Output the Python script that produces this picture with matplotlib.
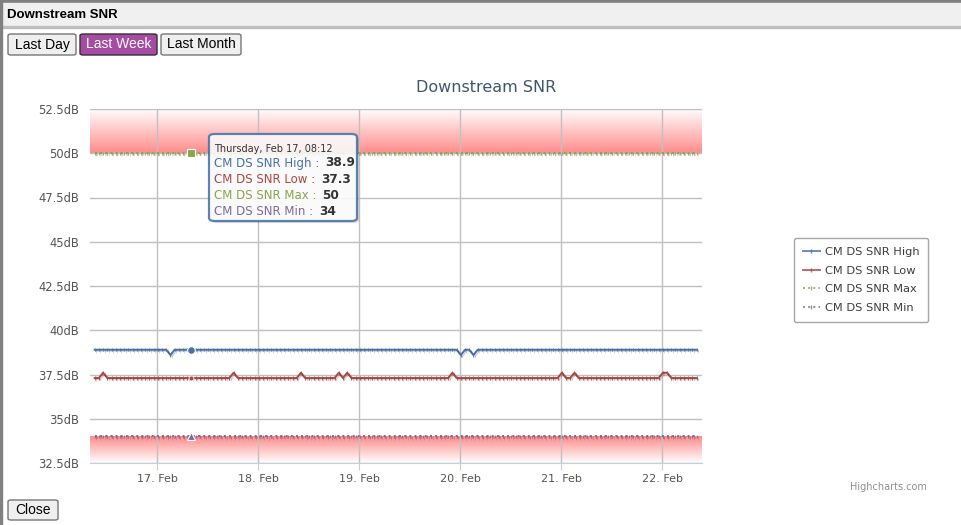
import matplotlib
matplotlib.use("Agg")
import matplotlib.pyplot as plt
import matplotlib.dates as mdates
import matplotlib.patheffects as pe
from matplotlib.colors import LinearSegmentedColormap
from matplotlib.patches import FancyBboxPatch, Rectangle
from matplotlib.lines import Line2D
from datetime import datetime, timedelta
import numpy as np

W, H = 962, 525

# hourly samples, one week view
first_sample = "2022-02-16 09:12"
n_samples = 144

high_base = 38.9
high_dip_times = ["02-17 03:12", "02-20 00:12", "02-20 03:12"]
high_dip_values = [38.6, 38.6, 38.6]

low_base = 37.3
low_peak_times = ["02-16 11:12", "02-17 18:12", "02-18 10:12", "02-18 19:12",
                  "02-18 21:12", "02-19 22:12", "02-21 00:12", "02-21 03:12",
                  "02-22 00:12", "02-22 01:12"]
low_peak_values = [37.6, 37.6, 37.6, 37.6, 37.6, 37.6, 37.6, 37.6, 37.6, 37.6]

max_base = 50.0
min_base = 34.0

series_names = ["CM DS SNR High", "CM DS SNR Low", "CM DS SNR Max", "CM DS SNR Min"]
series_colors = ["#4572A7", "#AA4643", "#89A54E", "#80699B"]

y_ticks = [32.5, 35, 37.5, 40, 42.5, 45, 47.5, 50, 52.5]
x_tick_days = ["2022-02-17", "2022-02-18", "2022-02-19", "2022-02-20", "2022-02-21", "2022-02-22"]
x_range = ["2022-02-16 08:05", "2022-02-22 09:30"]

tooltip_time = "2022-02-17 08:12"
tooltip_title = "Thursday, Feb 17, 08:12"


def px(x, y):
    """pixel (top-left origin) -> figure fraction"""
    return x / W, 1 - y / H


def build(base, times, values, start, n):
    vals = [base] * n
    for t, v in zip(times, values):
        d = datetime.strptime("2022-" + t, "%Y-%m-%d %H:%M")
        idx = int(round((d - start).total_seconds() / 3600))
        vals[idx] = v
    return vals


def button(fig, x0, y0, x1, y1, label, bg="#efefef", fg="black", edge="#767676"):
    bx, by = px(x0, y1)
    bw, bh = (x1 - x0) / W, (y1 - y0) / H
    fig.patches.append(FancyBboxPatch((bx, by), bw, bh, boxstyle="round,pad=0,rounding_size=0.003",
                                      transform=fig.transFigure, facecolor=bg, edgecolor=edge, lw=1))
    cx, cy = px((x0 + x1) / 2, (y0 + y1) / 2)
    fig.text(cx, cy, label, ha="center", va="center", fontsize=10, color=fg,
             family="Liberation Sans")


start = datetime.strptime(first_sample, "%Y-%m-%d %H:%M")
times = [start + timedelta(hours=i) for i in range(n_samples)]
high = build(high_base, high_dip_times, high_dip_values, start, n_samples)
low = build(low_base, low_peak_times, low_peak_values, start, n_samples)
mx = [max_base] * n_samples
mn = [min_base] * n_samples

fig = plt.figure(figsize=(W / 100, H / 100), dpi=100)
fig.patch.set_facecolor("white")

# page chrome
fig.patches.append(Rectangle(px(0, 3), 1, 3 / H, transform=fig.transFigure, color="#808080"))
fig.patches.append(Rectangle(px(0, 27), 1, 24 / H, transform=fig.transFigure, color="#f0f0f0"))
fig.patches.append(Rectangle(px(0, 28), 1, 1.5 / H, transform=fig.transFigure, color="#bdbdbd"))
fig.patches.append(Rectangle(px(0, H), 1.5 / W, 1, transform=fig.transFigure, color="#808080"))
fig.text(*px(7, 15), "Downstream SNR", fontsize=9.5, fontweight="bold", va="center",
         family="Liberation Sans")
button(fig, 8, 34, 76, 55, "Last Day")
button(fig, 80, 34, 157, 55, "Last Week", bg="#a64ca3", fg="white", edge="#333333")
button(fig, 161, 34, 241, 55, "Last Month")
button(fig, 8, 500, 58, 520, "Close")

ax = fig.add_axes([90 / W, (H - 463) / H, 612 / W, 354 / H])

# gradient plot bands
x0, x1 = [mdates.date2num(datetime.strptime(s, "%Y-%m-%d %H:%M")) for s in x_range]
band_cmap = LinearSegmentedColormap.from_list("band", ["#ffffff", "#ff8c8c"])
grad = np.linspace(0, 1, 100).reshape(-1, 1)
ax.imshow(grad[::-1], cmap=band_cmap, extent=[x0, x1, 50, 52.5], aspect="auto",
          origin="lower", zorder=0)
ax.imshow(grad, cmap=band_cmap, extent=[x0, x1, 32.5, 34], aspect="auto",
          origin="lower", zorder=0)

shadow = [pe.SimpleLineShadow(offset=(1, -1), alpha=0.15), pe.Normal()]
styles = ["-", "-", ":", ":"]
for vals, name, col, ls in zip([high, low, mx, mn], series_names, series_colors, styles):
    ax.plot(times, vals, color=col, lw=1.4, ls=ls, marker="|", ms=2.5, mew=0.6,
            label=name, zorder=3, path_effects=shadow)

# hover markers
tt = datetime.strptime(tooltip_time, "%Y-%m-%d %H:%M")
ti = int(round((tt - start).total_seconds() / 3600))
ax.plot([times[ti]], [high[ti]], "o", color=series_colors[0], ms=5.5, mec="white", mew=0.8, zorder=5)
ax.plot([times[ti]], [low[ti]], "o", color=series_colors[1], ms=3.5, mec="white", mew=0.5, zorder=5)
ax.plot([times[ti]], [mx[ti]], "s", color=series_colors[2], ms=5.5, mec="white", mew=0.8, zorder=5)
ax.plot([times[ti]], [mn[ti]], "^", color=series_colors[3], ms=5.5, mec="white", mew=0.8, zorder=5)

ax.set_xlim(x0, x1)
ax.set_ylim(32.5, 52.5)
ax.set_yticks(y_ticks)
ax.set_yticklabels([f"{v:g}dB" for v in y_ticks])
ax.set_xticks([mdates.date2num(datetime.strptime(d, "%Y-%m-%d")) for d in x_tick_days])
ax.xaxis.set_major_formatter(mdates.DateFormatter("%d. %b"))
ax.grid(True, color="#c0c0c0", lw=1, zorder=1)
ax.set_axisbelow(True)
for s in ["top", "left", "right"]:
    ax.spines[s].set_visible(False)
ax.spines["bottom"].set_color("#c0d0e0")
ax.tick_params(axis="x", length=5, color="#c0d0e0", labelsize=8, labelcolor="#555555", pad=3)
ax.tick_params(axis="y", length=0, labelsize=8.3, labelcolor="#555555", pad=8)
ax.set_facecolor("white")

fig.text(*px(486, 88), "Downstream SNR", ha="center", va="center", fontsize=11.5, color="#3E576F")
fig.text(*px(927, 487), "Highcharts.com", ha="right", va="center", fontsize=7, color="#909090")

# legend
handles = [Line2D([], [], color=c, ls=l, lw=1.4, alpha=0.8, marker="|", ms=2.5) for c, l in zip(series_colors, styles)]
leg = fig.legend(handles, series_names, loc="center left", bbox_to_anchor=px(794, 280),
                 fontsize=8.2, frameon=True, fancybox=True, handlelength=1.5, handletextpad=0.45,
                 labelspacing=0.78, borderpad=0.75, borderaxespad=0)
leg.get_frame().set_edgecolor("#909090")
leg.get_frame().set_linewidth(1)
for t in leg.get_texts():
    t.set_color("#3d3d3d")

# tooltip
bx, by = px(209, 221)
fig.patches.append(FancyBboxPatch((bx, by), 148 / W, 87 / H,
                                  boxstyle="round,pad=0,rounding_size=0.006",
                                  transform=fig.transFigure, facecolor="white", alpha=0.88,
                                  edgecolor=series_colors[0], lw=1.6, zorder=10,
                                  path_effects=[pe.SimplePatchShadow(offset=(1.5, -1.5), alpha=0.2), pe.Normal()]))
fig.text(*px(214, 149), tooltip_title, fontsize=7, color="#333333", va="center", zorder=11)
renderer = fig.canvas.get_renderer()
values_txt = [f"{high[ti]:g}", f"{low[ti]:g}", f"{mx[ti]:g}", f"{mn[ti]:g}"]
for k, (name, col, val) in enumerate(zip(series_names, series_colors, values_txt)):
    yy = 163 + k * 16.3
    t = fig.text(*px(214, yy), name + " : ", fontsize=8.5, color=col, va="center", zorder=11)
    bb = t.get_window_extent(renderer)
    fig.text(bb.x1 / W + 2 / W, px(0, yy)[1], val, fontsize=8.7, fontweight="bold",
             color="#333333", va="center", zorder=11)

fig.savefig("out.png", dpi=100)
